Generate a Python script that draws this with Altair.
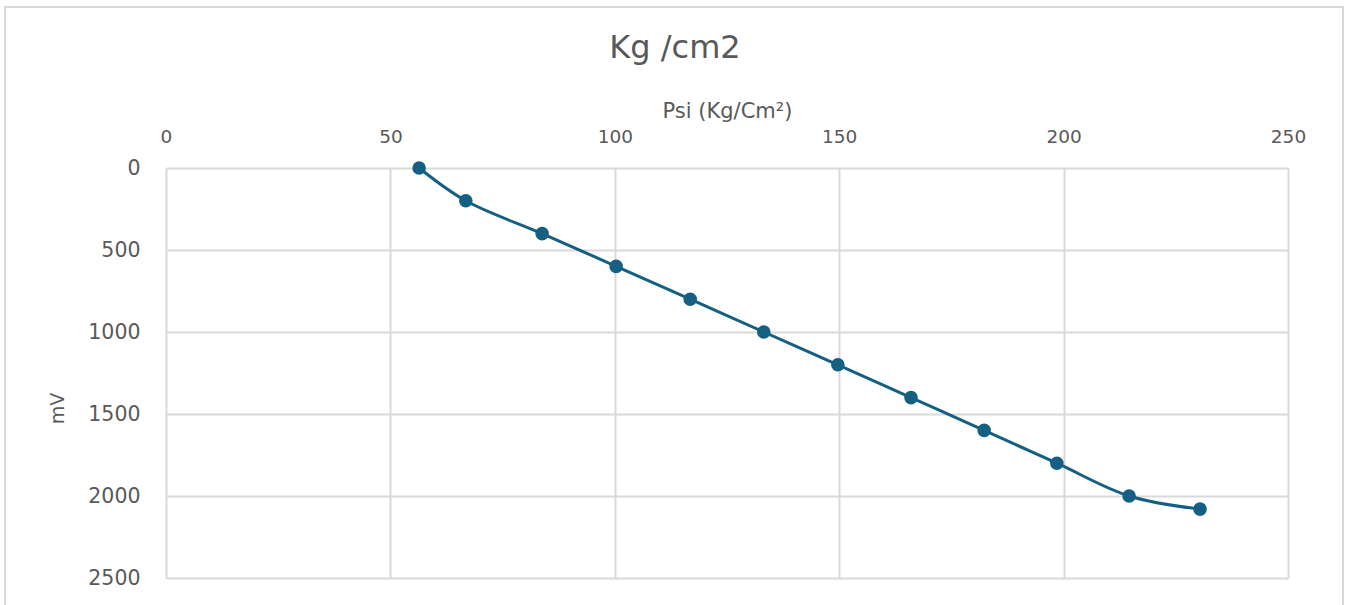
import altair as alt
import pandas as pd

# Data
psi = [56.4, 66.8, 83.8, 100.3, 116.8, 133.2, 149.7, 166.0, 182.3, 198.5, 214.6, 230.4]
mv = [0, 200, 400, 600, 800, 1000, 1200, 1400, 1600, 1800, 2000, 2080]
x_ticks = [0, 50, 100, 150, 200, 250]
y_ticks = [0, 500, 1000, 1500, 2000, 2500]
chart_title = "Kg /cm2"

df = pd.DataFrame({"psi": psi, "mv": mv})

LINE = "#156082"
GRID = "#d9d9d9"
TEXT = "#595959"
FONT = "DejaVu Sans"

x_enc = alt.X(
    "psi:Q",
    scale=alt.Scale(domain=[0, 250], nice=False, zero=False),
    axis=alt.Axis(
        orient="top",
        values=x_ticks,
        format="d",
        title="Psi (Kg/Cm²)",
        titleFont=FONT,
        titleFontSize=21,
        titleFontWeight="normal",
        titleColor=TEXT,
        titlePadding=6,
        labelFont=FONT,
        labelFontSize=18.5,
        labelColor=TEXT,
        labelPadding=22,
        labelFlush=False,
        ticks=False,
        tickSize=0,
        domain=False,
        grid=True,
        gridColor=GRID,
        gridWidth=2,
    ),
)

y_enc = alt.Y(
    "mv:Q",
    scale=alt.Scale(domain=[0, 2500], reverse=True, nice=False, zero=False),
    axis=alt.Axis(
        values=y_ticks,
        format="d",
        title="mV",
        titleFont=FONT,
        titleFontSize=19,
        titleFontWeight="normal",
        titleColor=TEXT,
        titleAngle=270,
        titleX=-109,
        titleY=240,
        titleAlign="center",
        titleBaseline="middle",
        labelFont=FONT,
        labelFontSize=20.5,
        labelColor=TEXT,
        labelPadding=26,
        labelFlush=False,
        ticks=False,
        tickSize=0,
        domain=False,
        grid=True,
        gridColor=GRID,
        gridWidth=2,
    ),
)

base = alt.Chart(df)

line = base.mark_line(color=LINE, strokeWidth=3, interpolate="catmull-rom").encode(
    x=x_enc, y=y_enc
)
points = base.mark_circle(color=LINE, size=185, opacity=1).encode(
    x="psi:Q", y="mv:Q"
)

frame = alt.Chart(alt.Data(values=[{}])).mark_rect(
    filled=False, stroke=GRID, strokeWidth=2
).encode(
    x=alt.value(-161),
    x2=alt.value(1177),
    y=alt.value(-161),
    y2=alt.value(480),
)

title_text = alt.Chart(alt.Data(values=[{"t": chart_title}])).mark_text(
    font=FONT, fontSize=32, color=TEXT, align="center", baseline="alphabetic"
).encode(
    text="t:N",
    x=alt.value(509),
    y=alt.value(-110),
)

chart = (
    alt.layer(frame, line, points, title_text)
    .properties(
        width=1122,
        height=410,
        autosize=alt.AutoSizeParams(type="none"),
        padding={"left": 166, "top": 168, "right": 58, "bottom": 27},
    )
    .configure_view(stroke=None)
    .configure(background="white")
)

chart.save("out.html", embed_options={"renderer": "svg", "actions": False})
